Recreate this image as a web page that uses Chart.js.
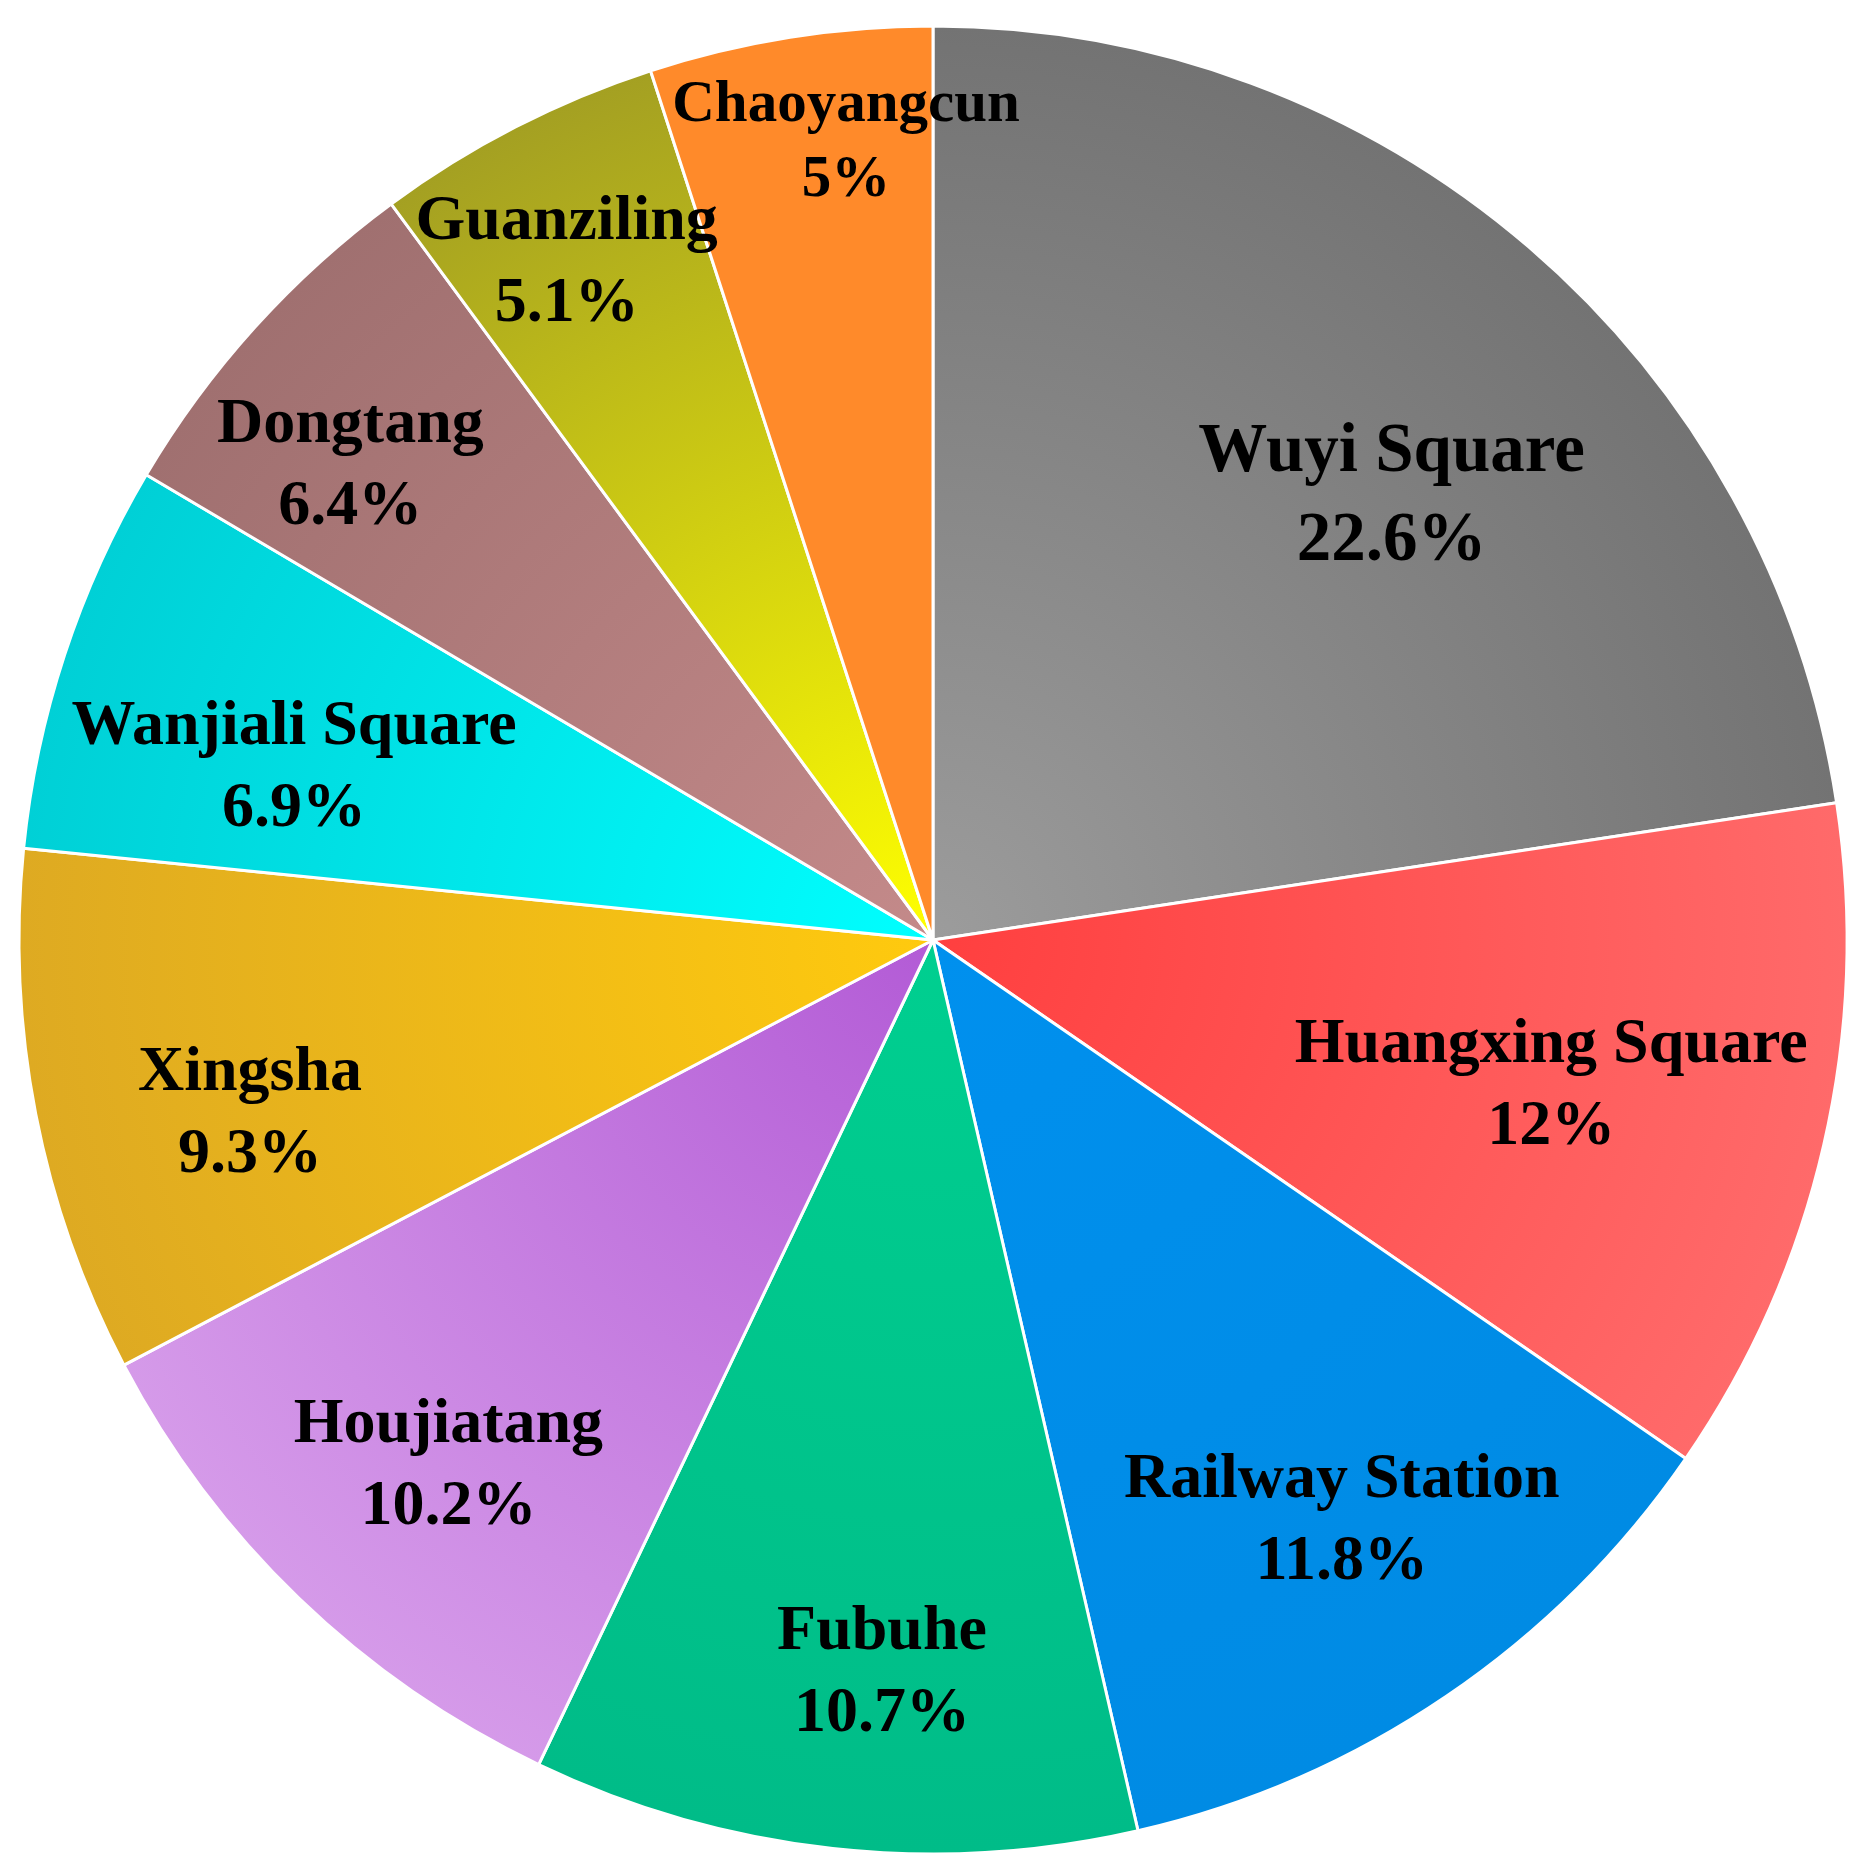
<!DOCTYPE html>
<html>
<head>
<meta charset="utf-8">
<title>Station share</title>
<script src="https://cdn.jsdelivr.net/npm/chart.js@4.4.1/dist/chart.umd.min.js"></script>
<style>
  html, body { margin: 0; padding: 0; background: #ffffff; }
  #wrap { width: 1869px; height: 1866px; }
</style>
</head>
<body>
<div id="wrap"><canvas id="pieChart" width="1869" height="1866"></canvas></div>
<script>
// --- DATA ---
const stations = [
  "Wuyi Square",
  "Huangxing Square",
  "Railway Station",
  "Fubuhe",
  "Houjiatang",
  "Xingsha",
  "Wanjiali Square",
  "Dongtang",
  "Guanziling",
  "Chaoyangcun",
];
const shares = [22.6, 12, 11.8, 10.7, 10.2, 9.3, 6.9, 6.4, 5.1, 5];

// --- STYLE ---
// radial gradient per slice: colour at the centre, colour at the rim
const innerColors = ["#9c9c9c", "#ff3f3f", "#0090ee", "#00cf90", "#b35bd6",
  "#ffca0e", "#00ffff", "#c48a8a", "#ffff00", "#ff8a2a"];
const outerColors = ["#737373", "#ff6a6a", "#008be4", "#00bc88", "#d59ae9",
  "#deaa22", "#00d0d6", "#a07070", "#a4a022", "#ff8a2a"];

// label placement (fraction of radius, angle nudge in degrees) and font size
const labelRadius = [0.70, 0.694, 0.774, 0.80, 0.78, 0.77, 0.725, 0.824, 0.846, 0.881];
const labelNudge = [5.1, 0, -1.1, -2.3, -1.1, -3, -2.8, -2.8, -1.1, 2.8];
const labelSize = [69, 64, 64, 64, 64, 64, 64, 64, 64, 59];

const BORDER = 3;

// Gradient fill built from the chart area (same centre/radius as the pie)
function sliceFill(ctx) {
  const chart = ctx.chart;
  const area = chart.chartArea;
  const i = ctx.dataIndex;
  if (!area) return innerColors[i];
  const cx = (area.left + area.right) / 2;
  const cy = (area.top + area.bottom) / 2;
  const r = (Math.min(area.right - area.left, area.bottom - area.top) - BORDER) / 2;
  const g = chart.ctx.createRadialGradient(cx, cy, 0, cx, cy, r);
  g.addColorStop(0, innerColors[i]);
  g.addColorStop(1, outerColors[i]);
  return g;
}

// --- PLUGIN: two-line labels inside the slices ---
const sliceLabels = {
  id: "sliceLabels",
  afterDatasetsDraw(chart) {
    const ctx = chart.ctx;
    const meta = chart.getDatasetMeta(0);
    ctx.save();
    ctx.fillStyle = "#000000";
    ctx.textAlign = "center";
    ctx.textBaseline = "middle";
    meta.data.forEach((arc, i) => {
      const p = arc.getProps(["x", "y", "startAngle", "endAngle", "outerRadius"], true);
      const mid = (p.startAngle + p.endAngle) / 2 + labelNudge[i] * Math.PI / 180;
      const r = p.outerRadius * labelRadius[i];
      const x = p.x + Math.cos(mid) * r;
      const y = p.y + Math.sin(mid) * r + 4; // small drop to sit like the original
      const size = labelSize[i];
      const lh = size * 1.28;
      ctx.font = "bold " + size + "px 'Liberation Serif', 'Times New Roman', serif";
      ctx.fillText(stations[i], x, y - lh / 2);
      ctx.fillText(shares[i] + "%", x, y + lh / 2);
    });
    ctx.restore();
  },
};

// --- RENDER ---
const pieCtx = document.getElementById("pieChart").getContext("2d");
const pieChart = new Chart(pieCtx, {
  type: "pie",
  data: {
    labels: stations,
    datasets: [
      {
        data: shares,
        backgroundColor: sliceFill,
        borderColor: "#ffffff",
        borderWidth: BORDER,
        hoverBorderWidth: BORDER,
        hoverOffset: 0,
      },
    ],
  },
  options: {
    responsive: false,
    animation: false,
    devicePixelRatio: 1,
    layout: {
      padding: { left: 17.5, right: 20.5, top: 24.5, bottom: 10.5 },
    },
    plugins: {
      legend: { display: false },
      tooltip: { enabled: false },
    },
  },
  plugins: [sliceLabels],
});
</script>
</body>
</html>
